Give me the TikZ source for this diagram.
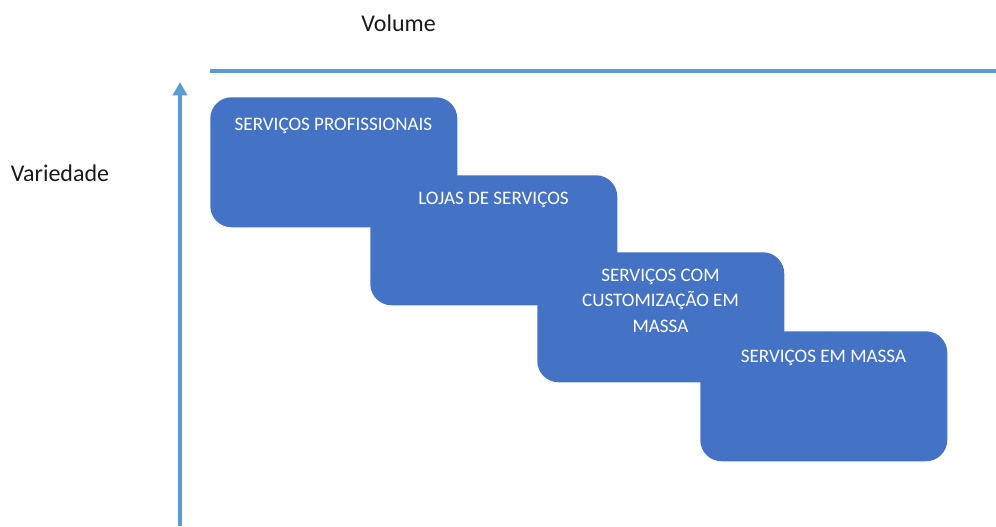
\documentclass[tikz,border=0pt]{standalone}
\usepackage{fontspec}
\setmainfont{Carlito}
\usetikzlibrary{arrows.meta}
\definecolor{boxblue}{HTML}{4472C4}
\definecolor{axisblue}{HTML}{5B9BD5}
\definecolor{labelgray}{HTML}{1A1A1A}
\begin{document}
\begin{tikzpicture}[x=0.75pt,y=-0.75pt,
  catbox/.style={fill=boxblue,draw=none,rounded corners=16pt,minimum width=247*0.75pt,minimum height=130*0.75pt,inner sep=0pt,anchor=north west},
  boxtext/.style={text=white,font=\fontsize{14.3pt}{19pt}\selectfont,align=center,anchor=base,inner sep=0pt},
  axislabel/.style={text=labelgray,font=\fontsize{18pt}{21pt}\selectfont,anchor=base,inner sep=0pt},
  axis/.style={draw=axisblue,line width=3pt,-{Triangle[width=10.5pt,length=10pt]}}]
\clip (0,0) rectangle (996,526);
\fill[white] (0,0) rectangle (996,526);
% axes
\coordinate (vstart) at (180,526);
\coordinate (vend) at (180,82);
\coordinate (hstart) at (210,71);
\coordinate (hend) at (1010,71);
\draw[axis] (vstart) -- (vend);
\draw[axis] (hstart) -- (hend);
\node[axislabel] (vol) at (398.5,31) {Volume};
\node[axislabel] (var) at (60,181) {Variedade};
% boxes
\node[catbox] (b1) at (210,97) {};
\node[boxtext] (t1) at (333.5,130) {SERVIÇOS PROFISSIONAIS};
\node[catbox] (b2) at (370,175) {};
\node[boxtext] (t2) at (493.5,204) {LOJAS DE SERVIÇOS};
\node[catbox] (b3) at (537,252) {};
\node[boxtext,anchor=north] (t3) at (660.5,269) {SERVIÇOS COM\\CUSTOMIZAÇÃO EM\\MASSA};
\node[catbox] (b4) at (700,331) {};
\node[boxtext] (t4) at (823.5,362) {SERVIÇOS EM MASSA};
\end{tikzpicture}
\end{document}
